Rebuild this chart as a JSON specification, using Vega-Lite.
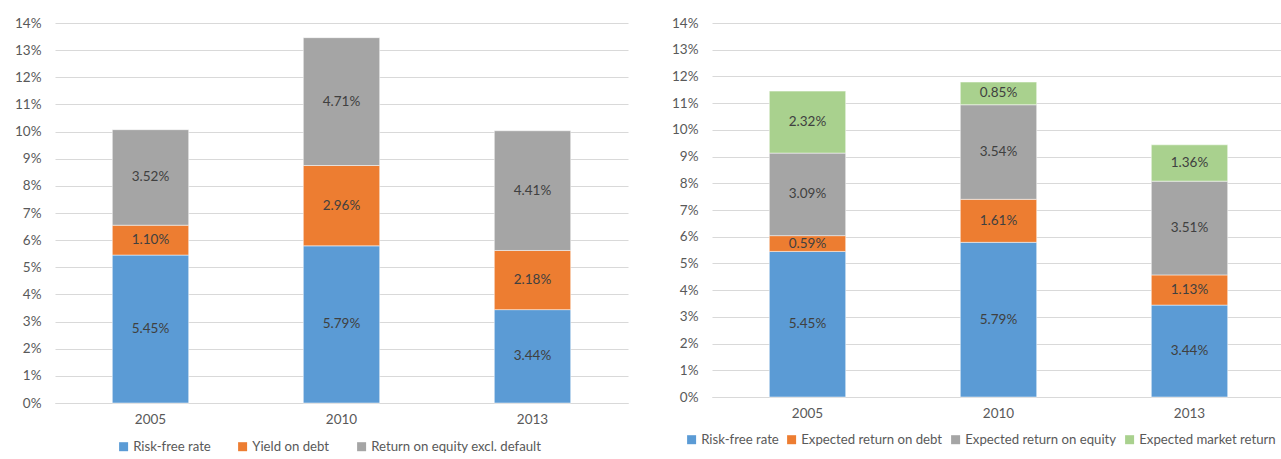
{
  "$schema": "https://vega.github.io/schema/vega-lite/v6.json",
  "padding": {"left": 14, "top": 16, "right": 0, "bottom": 0},
  "background": "white",
  "spacing": 43,
  "config": {
    "view": {"stroke": null},
    "font": "Lato",
    "axis": {"labelFont": "Lato", "labelFontSize": 13.5, "labelColor": "#595959", "gridColor": "#D9D9D9", "domainColor": "#D9D9D9", "ticks": false, "title": null},
    "legend": {"labelFont": "Lato", "labelFontSize": 13.2, "labelColor": "#595959", "labelLimit": 400, "symbolType": "square", "symbolSize": 81, "symbolStrokeWidth": 0, "labelOffset": 3, "padding": 0, "title": null, "orient": "none", "direction": "horizontal"}
  },
  "datasets": {
    "left": [
      {"year": "2005", "series": "Risk-free rate", "k": 1, "value": 0.0545},
      {"year": "2005", "series": "Yield on debt", "k": 2, "value": 0.0110},
      {"year": "2005", "series": "Return on equity excl. default", "k": 3, "value": 0.0352},
      {"year": "2010", "series": "Risk-free rate", "k": 1, "value": 0.0579},
      {"year": "2010", "series": "Yield on debt", "k": 2, "value": 0.0296},
      {"year": "2010", "series": "Return on equity excl. default", "k": 3, "value": 0.0471},
      {"year": "2013", "series": "Risk-free rate", "k": 1, "value": 0.0344},
      {"year": "2013", "series": "Yield on debt", "k": 2, "value": 0.0218},
      {"year": "2013", "series": "Return on equity excl. default", "k": 3, "value": 0.0441}
    ],
    "right": [
      {"year": "2005", "series": "Risk-free rate", "k": 1, "value": 0.0545},
      {"year": "2005", "series": "Expected return on debt", "k": 2, "value": 0.0059},
      {"year": "2005", "series": "Expected return on equity", "k": 3, "value": 0.0309},
      {"year": "2005", "series": "Expected market return", "k": 4, "value": 0.0232},
      {"year": "2010", "series": "Risk-free rate", "k": 1, "value": 0.0579},
      {"year": "2010", "series": "Expected return on debt", "k": 2, "value": 0.0161},
      {"year": "2010", "series": "Expected return on equity", "k": 3, "value": 0.0354},
      {"year": "2010", "series": "Expected market return", "k": 4, "value": 0.0085},
      {"year": "2013", "series": "Risk-free rate", "k": 1, "value": 0.0344},
      {"year": "2013", "series": "Expected return on debt", "k": 2, "value": 0.0113},
      {"year": "2013", "series": "Expected return on equity", "k": 3, "value": 0.0351},
      {"year": "2013", "series": "Expected market return", "k": 4, "value": 0.0136}
    ]
  },
  "hconcat": [
    {
      "width": 573,
      "height": 380,
      "data": {"name": "left"},
      "encoding": {
        "x": {"field": "year", "type": "nominal", "scale": {"paddingInner": 0.6, "paddingOuter": 0.3}, "axis": {"labelAngle": 0, "labelPadding": 9, "grid": false}},
        "y": {"field": "value", "type": "quantitative", "stack": "zero", "scale": {"domain": [0, 0.14]}, "axis": {"format": ".0%", "values": [0, 0.01, 0.02, 0.03, 0.04, 0.05, 0.06, 0.07, 0.08, 0.09, 0.1, 0.11, 0.12, 0.13, 0.14], "labelPadding": 14, "domain": false}},
        "order": {"field": "k", "type": "quantitative"}
      },
      "layer": [
        {
          "mark": {"type": "bar", "stroke": "white", "strokeWidth": 0.5},
          "encoding": {
            "color": {"field": "series", "type": "nominal", "sort": null,
              "scale": {"domain": ["Risk-free rate", "Yield on debt", "Return on equity excl. default"], "range": ["#5B9BD5", "#ED7D31", "#A5A5A5"]},
              "legend": {"columnPadding": 25, "legendX": 62, "legendY": 417}}
          }
        },
        {
          "mark": {"type": "text", "fontSize": 13.5, "color": "#404040", "font": "Lato"},
          "encoding": {
            "y": {"field": "value", "type": "quantitative", "stack": "zero", "bandPosition": 0.5},
            "detail": {"field": "series"},
            "text": {"field": "value", "type": "quantitative", "format": ".2%"}
          }
        }
      ]
    },
    {
      "width": 573,
      "height": 374,
      "data": {"name": "right"},
      "encoding": {
        "x": {"field": "year", "type": "nominal", "scale": {"paddingInner": 0.6, "paddingOuter": 0.3}, "axis": {"labelAngle": 0, "labelPadding": 9, "grid": false}},
        "y": {"field": "value", "type": "quantitative", "stack": "zero", "scale": {"domain": [0, 0.14]}, "axis": {"format": ".0%", "values": [0, 0.01, 0.02, 0.03, 0.04, 0.05, 0.06, 0.07, 0.08, 0.09, 0.1, 0.11, 0.12, 0.13, 0.14], "labelPadding": 14, "domain": false}},
        "order": {"field": "k", "type": "quantitative"}
      },
      "layer": [
        {
          "mark": {"type": "bar", "stroke": "white", "strokeWidth": 0.5},
          "encoding": {
            "color": {"field": "series", "type": "nominal", "sort": null,
              "scale": {"domain": ["Risk-free rate", "Expected return on debt", "Expected return on equity", "Expected market return"], "range": ["#5B9BD5", "#ED7D31", "#A5A5A5", "#A9D18E"]},
              "legend": {"columnPadding": 6, "legendX": -27, "legendY": 410}}
          }
        },
        {
          "mark": {"type": "text", "fontSize": 13.5, "color": "#404040", "font": "Lato"},
          "encoding": {
            "y": {"field": "value", "type": "quantitative", "stack": "zero", "bandPosition": 0.5},
            "detail": {"field": "series"},
            "text": {"field": "value", "type": "quantitative", "format": ".2%"}
          }
        }
      ]
    }
  ],
  "resolve": {"scale": {"color": "independent"}, "legend": {"color": "independent"}}
}
